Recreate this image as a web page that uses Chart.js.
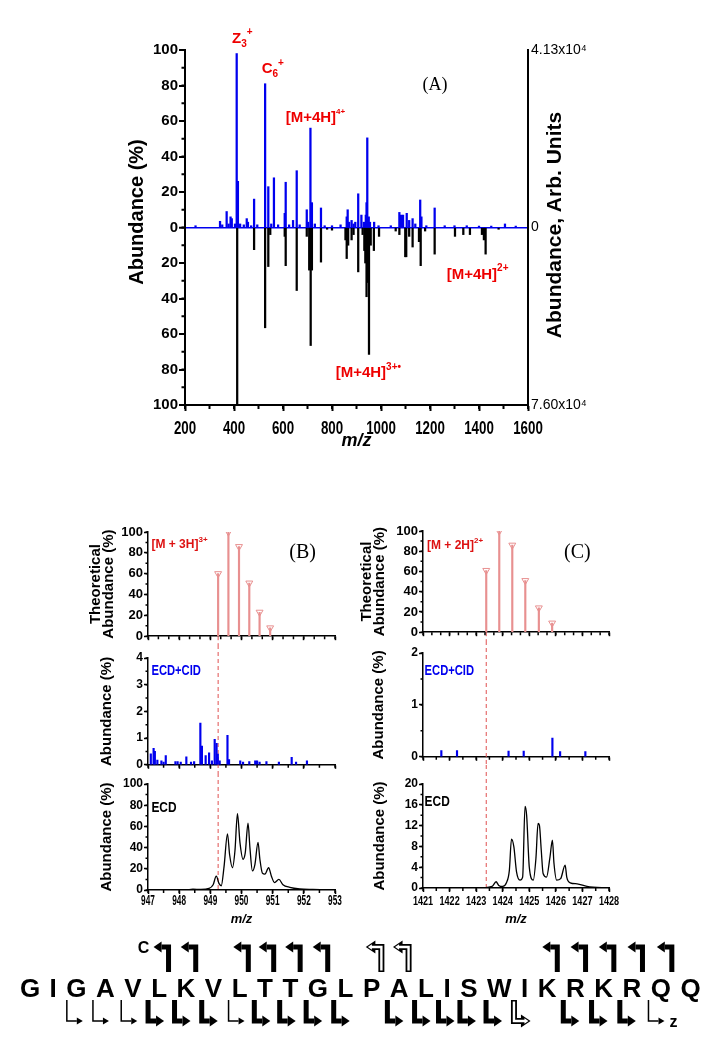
<!DOCTYPE html>
<html>
<head>
<meta charset="utf-8">
<script src="https://cdn.jsdelivr.net/npm/chart.js@4.4.1/dist/chart.umd.min.js"></script>
<style>
  body { margin: 0; background: #fff; }
  #page { position: relative; width: 712px; height: 1050px; overflow: hidden; background: #fff; }
  canvas { position: absolute; }
</style>
</head>
<body>
<div id="page">
  <canvas id="chartA" width="712" height="460" style="left:0px;top:0px"></canvas>
  <canvas id="bTop" width="356" height="130" style="left:0px;top:515px"></canvas>
  <canvas id="bMid" width="356" height="128" style="left:0px;top:645px"></canvas>
  <canvas id="bBot" width="356" height="157" style="left:0px;top:773px"></canvas>
  <canvas id="cTop" width="356" height="126" style="left:356px;top:515px"></canvas>
  <canvas id="cMid" width="356" height="124" style="left:356px;top:641px"></canvas>
  <canvas id="cBot" width="356" height="165" style="left:356px;top:765px"></canvas>
  <canvas id="seq" width="712" height="125" style="left:0px;top:925px"></canvas>
</div>
<script>
const BLUE = '#0000ee';
const RED = '#ee0000';
const PINK = '#e89090';
const SANS = "'Liberation Sans', Arial, sans-serif";
const SERIF = "'Liberation Serif', 'Times New Roman', serif";

// panel A - ECD+CID (up, blue) vs ECD (down, black)
const cidMz = [243, 343, 352, 370, 378, 386, 391, 404, 411, 416, 425, 440, 452, 457, 470, 482, 495, 527, 540, 552,
  563, 580, 607, 611, 625, 641, 656, 668, 697, 703, 712, 718, 730, 755, 770, 800, 835, 860, 864, 870,
  880, 888, 895, 907, 920, 930, 938, 941, 944, 950, 955, 972, 990, 1040, 1075, 1082, 1090, 1105, 1115, 1129,
  1140, 1160, 1165, 1185, 1219, 1260, 1300, 1350, 1400, 1450, 1506, 1550];
const cidAb = [1, 3.5, 1.5, 9, 2, 6, 5, 2, 98, 26, 2, 1.5, 5, 3, 1, 16, 1.5, 81, 23, 2,
  28, 1.5, 8, 25.5, 1.5, 4, 32, 1.5, 10, 3, 56, 14, 2, 11, 1, 1, 1.5, 6, 10, 3,
  4, 2, 3, 19, 7, 3, 7, 14, 50.5, 6, 3, 3, 1, 1, 8.5, 7, 7, 8, 4, 5,
  2, 15.5, 6, 1, 11, 1, 1, 1, 0.8, 0.8, 2, 0.8];
const ecdMz = [413, 482, 527, 540, 548, 607, 611, 656, 697, 707, 713, 718, 755, 780, 800, 855, 860, 866, 880, 888,
  907, 925, 932, 936, 941, 946, 951, 958, 971, 992, 1060, 1075, 1099, 1103, 1115, 1129, 1155, 1162, 1180, 1219,
  1302, 1336, 1363, 1412, 1420, 1427, 1480];
const ecdAb = [100, 12.5, 56.5, 22, 4, 5, 21.5, 35.5, 5, 24, 66.5, 24, 19.5, 1, 1.5, 7, 17.5, 10, 7, 4,
  25, 4, 13, 20, 39, 31, 71.5, 10, 13, 5, 2, 4, 16.5, 16.5, 5, 11, 8, 21.5, 2, 15,
  5, 4, 4, 4, 7, 15, 1];
const rightTickValues = [100, 0, -100];
const rightTickText = ['4.13x10\u2074', '0', '7.60x10\u2074'];

// panel B - [M+3H]3+ region
const thMzB = [949.25, 949.58, 949.92, 950.25, 950.58, 950.92];
const thAbB = [60, 100, 86, 51, 23, 8];
const cidMzB = [947.09, 947.18, 947.22, 947.3, 947.43, 947.5, 947.57, 947.88, 947.95, 948.05, 948.23, 948.38, 948.48,
  948.68, 948.73, 948.85, 948.96, 949.05, 949.14, 949.2, 949.24, 949.3, 949.55, 949.6, 949.96, 950.05,
  950.25, 950.44, 950.5, 950.58, 950.8, 951.2, 951.61, 951.75, 952.1];
const cidAbB = [0.41, 0.62, 0.5, 0.18, 0.15, 0.1, 0.35, 0.12, 0.12, 0.1, 0.3, 0.1, 0.12,
  1.56, 0.7, 0.35, 0.45, 0.15, 0.95, 0.8, 0.4, 0.15, 1.1, 0.2, 0.15, 0.1,
  0.12, 0.15, 0.15, 0.1, 0.12, 0.1, 0.28, 0.1, 0.15];
const ecdMzB = [947.0, 948.2, 948.44, 948.7, 948.96, 949.09, 949.19, 949.28, 949.35, 949.44, 949.55, 949.62, 949.71,
  949.79, 949.87, 949.95, 950.05, 950.12, 950.21, 950.27, 950.35, 950.43, 950.53, 950.59, 950.67, 950.75,
  950.87, 950.96, 951.06, 951.2, 951.33, 951.55, 951.87, 952.29, 953.0];
const ecdAbB = [0, 0, 0.8, 0.5, 1.5, 5, 13, 6, 4, 22, 53, 33, 21,
  37, 72, 45, 29, 35, 63, 40, 18, 24, 45, 29, 16, 15,
  21, 13, 7, 10, 5, 2.5, 1, 0.5, 0];

// panel C - [M+2H]2+ region
const thMzC = [1423.38, 1423.87, 1424.36, 1424.85, 1425.36, 1425.86];
const thAbC = [61, 100, 86, 51, 24, 9];
const cidMzC = [1421.69, 1422.28, 1424.22, 1424.79, 1425.87, 1426.16, 1427.11];
const cidAbC = [0.12, 0.12, 0.11, 0.11, 0.36, 0.1, 0.1];
const ecdMzC = [1421.0, 1423.0, 1423.6, 1423.75, 1423.85, 1424.0, 1424.14, 1424.25, 1424.33, 1424.42, 1424.52, 1424.65,
  1424.75, 1424.84, 1424.9, 1425.0, 1425.15, 1425.25, 1425.33, 1425.38, 1425.45, 1425.52, 1425.65, 1425.78,
  1425.87, 1425.93, 1426.03, 1426.18, 1426.35, 1426.41, 1426.54, 1426.8, 1427.17, 1428.0];
const ecdAbC = [0, 0, 0.3, 1.2, 0.5, 0.3, 1, 3.4, 9.4, 7.9, 3.1, 1.5,
  2.1, 15.7, 14, 4, 1.5, 5.7, 12.4, 12.1, 7.3, 2.8, 2.1, 6,
  9.2, 4.7, 1.5, 1.8, 4.4, 2.1, 1, 0.8, 0.3, 0];

// sequence map: cleavage after residue k (1-based)
const residues = 'GIGAVLKVLTTGLPALISWIKRKRQQ'.split('');
const cThick = [6, 7, 9, 10, 11, 12, 21, 22, 23, 24, 25];
const cOpen = [14, 15];
const zThin = [2, 3, 4, 8, 24];
const zThick = [5, 6, 7, 9, 10, 11, 12, 14, 15, 16, 17, 18, 21, 22, 23];
const zOpen = [19];

const pts = (xs, ys, sign = 1) => xs.map((x, i) => ({ x: x, y: sign * ys[i] }));

// ---------- plugins ----------
const minorTicks = {
  id: 'minorTicks',
  afterDraw(chart, args, opts) {
    const ctx = chart.ctx;
    ['x', 'y'].forEach(id => {
      const m = opts && opts[id];
      if (!m) return;
      const s = chart.scales[id];
      const n = Math.round((s.max - s.min) / m.step);
      ctx.save();
      ctx.strokeStyle = '#000';
      ctx.lineWidth = m.width || 1.5;
      ctx.beginPath();
      for (let i = 0; i <= n; i++) {
        const p = s.getPixelForValue(s.min + i * m.step);
        if (id === 'x') { ctx.moveTo(p, s.top); ctx.lineTo(p, s.top + m.len); }
        else { ctx.moveTo(s.right, p); ctx.lineTo(s.right - m.len, p); }
      }
      ctx.stroke();
      ctx.restore();
    });
  }
};

// x tick labels in the figure are tall and condensed: draw them squeezed
const squeezeLabels = {
  id: 'squeezeLabels',
  afterDraw(chart, args, o) {
    if (!o || !o.font) return;
    const s = chart.scales.x, ctx = chart.ctx;
    ctx.save();
    ctx.font = o.font;
    ctx.fillStyle = '#000';
    ctx.textAlign = 'center';
    ctx.textBaseline = 'alphabetic';
    s.ticks.forEach(t => {
      ctx.save();
      ctx.translate(s.getPixelForValue(t.value), s.top + o.offset);
      ctx.scale(o.scaleX, 1);
      ctx.fillText(String(t.value), 0, 0);
      ctx.restore();
    });
    ctx.restore();
  }
};

function drawRich(ctx, n, x, y) {
  const size = n.size, fam = n.family || SANS, wt = n.weight || 'bold', sx = n.scaleX || 1;
  const pieces = n.parts.map(([t, k]) => {
    const s = k ? Math.round(size * (n.small || 0.65)) : size;
    ctx.font = wt + ' ' + s + 'px ' + fam;
    return { t, k, s, w: ctx.measureText(t).width };
  });
  let cx = 0;
  if (n.align === 'center') cx -= pieces.reduce((a, p) => a + p.w, 0) / 2;
  ctx.save();
  ctx.translate(x, y);
  ctx.scale(sx, 1);
  ctx.fillStyle = n.color || '#000';
  ctx.textBaseline = n.baseline || 'alphabetic';
  ctx.textAlign = 'left';
  pieces.forEach(p => {
    const dy = p.k === 'sub' ? size * 0.25 : p.k === 'sup' ? -size * 0.5 : 0;
    ctx.font = wt + ' ' + p.s + 'px ' + fam;
    ctx.fillText(p.t, cx, dy);
    cx += p.w;
  });
  ctx.restore();
}

const notes = {
  id: 'notes',
  afterDatasetsDraw(chart, args, opts) {
    if (!opts || !opts.items) return;
    opts.items.forEach(n => {
      drawRich(chart.ctx, n, chart.scales.x.getPixelForValue(n.x), chart.scales.y.getPixelForValue(n.y));
    });
  }
};

const refLine = {
  id: 'refLine',
  beforeDatasetsDraw(chart, args, o) {
    if (!o || o.value == null) return;
    const ctx = chart.ctx;
    const x = chart.scales.x.getPixelForValue(o.value);
    const y0 = o.from === 'axis' ? chart.chartArea.bottom : 0;
    const y1 = o.to === 'axis' ? chart.chartArea.bottom : chart.height;
    ctx.save();
    ctx.strokeStyle = '#e05050';
    ctx.lineWidth = 1;
    ctx.setLineDash([4, 3]);
    ctx.beginPath();
    ctx.moveTo(x, y0);
    ctx.lineTo(x, y1);
    ctx.stroke();
    ctx.restore();
  }
};

// rotated axis titles, both reading bottom-to-top
const sideTitles = {
  id: 'sideTitles',
  afterDraw(chart, args, o) {
    if (!o || !o.items) return;
    const ctx = chart.ctx;
    o.items.forEach(t => {
      ctx.save();
      ctx.translate(t.x, t.y);
      ctx.rotate(-Math.PI / 2);
      ctx.font = t.font;
      ctx.fillStyle = '#000';
      ctx.textAlign = 'center';
      ctx.textBaseline = 'middle';
      ctx.fillText(t.text, 0, 0);
      ctx.restore();
    });
  }
};

Chart.register(minorTicks, squeezeLabels, notes, refLine, sideTitles);

// ---------- panel A ----------
new Chart(document.getElementById('chartA'), {
  type: 'bar',
  data: {
    datasets: [
      { label: 'ECD+CID', data: pts(cidMz, cidAb), backgroundColor: BLUE, barThickness: 1.6, grouped: false },
      { label: 'ECD', data: pts(ecdMz, ecdAb, -1), backgroundColor: '#000', barThickness: 1.6, grouped: false }
    ]
  },
  options: {
    responsive: false,
    animation: false,
    devicePixelRatio: 1,
    layout: { padding: { top: 50, right: 0, bottom: 0, left: 0 } },
    plugins: {
      legend: { display: false },
      tooltip: { enabled: false },
      minorTicks: { x: { step: 100, len: 4, width: 2 }, y: { step: 10, len: 3.5, width: 2 } },
      squeezeLabels: { font: 'bold 18px ' + SANS, scaleX: 0.74, offset: 28.5 },
      sideTitles: {
        items: [
          { text: 'Abundance (%)', x: 137, y: 212, font: 'bold 20px ' + SANS },
          { text: 'Abundance, Arb. Units', x: 555, y: 225, font: 'bold 21px ' + SANS }
        ]
      },
      notes: {
        items: [
          { x: 392, y: 104, parts: [['Z', ''], ['3', 'sub'], ['+', 'sup']], size: 15, color: RED },
          { x: 513, y: 87, parts: [['C', ''], ['6', 'sub'], ['+', 'sup']], size: 15, color: RED },
          { x: 611, y: 59.7, parts: [['[M+4H]', ''], ['4+', 'sup']], size: 15, small: 0.55, color: RED },
          { x: 1220, y: 80, parts: [['(A)', '']], size: 18, family: SERIF, weight: 'normal', align: 'center', baseline: 'middle' },
          { x: 1268, y: -29, parts: [['[M+4H]', ''], ['2+', 'sup']], size: 15, color: RED },
          { x: 815, y: -84.4, parts: [['[M+4H]', ''], ['3+\u2022', 'sup']], size: 15, color: RED }
        ]
      }
    },
    scales: {
      x: {
        type: 'linear', min: 200, max: 1600, offset: false,
        afterFit: s => { s.height = 55; },
        ticks: { display: false, stepSize: 200, autoSkip: false },
        grid: { drawOnChartArea: false, offset: false, tickLength: 6, tickWidth: 2, tickColor: '#000' },
        border: { color: '#000', width: 2 },
        title: { display: true, text: 'm/z', color: '#000',
          font: { family: SANS, size: 18, weight: 'bold', style: 'italic' }, padding: { top: 0, bottom: 8 } }
      },
      y: {
        min: -100, max: 100,
        afterFit: s => { s.width = 185; },
        ticks: { stepSize: 20, padding: 1, color: '#000', callback: v => Math.abs(v),
          font: { family: SANS, size: 15, weight: 'bold' } },
        grid: {
          drawOnChartArea: true,
          color: c => (c.tick && c.tick.value === 0) ? BLUE : 'rgba(0,0,0,0)',
          lineWidth: c => (c.tick && c.tick.value === 0) ? 1.5 : 0,
          tickLength: 6, tickWidth: 2, tickColor: '#000'
        },
        border: { color: '#000', width: 2 }
      },
      y2: {
        position: 'right', min: -100, max: 100,
        afterFit: s => { s.width = 184; },
        ticks: { stepSize: 100, padding: 3, color: '#000',
          callback: v => { const i = rightTickValues.indexOf(v); return i >= 0 ? rightTickText[i] : ''; },
          font: { family: SANS, size: 14 } },
        grid: { display: false, drawTicks: false },
        border: { color: '#000', width: 2 }
      }
    }
  }
});

// ---------- panels B and C ----------
function spectrum(id, o) {
  return new Chart(document.getElementById(id), {
    type: 'bar',
    data: { datasets: o.datasets },
    options: {
      responsive: false,
      animation: false,
      devicePixelRatio: 1,
      layout: { padding: { top: o.padTop, right: o.padRight, bottom: 0, left: 0 } },
      plugins: {
        legend: { display: false },
        tooltip: { enabled: false },
        minorTicks: o.minor,
        squeezeLabels: o.xLabels,
        notes: { items: o.notes },
        refLine: o.ref
      },
      scales: {
        x: {
          type: 'linear', min: o.xRange[0], max: o.xRange[1], offset: false,
          afterFit: s => { s.height = o.xHeight; },
          ticks: { display: false, stepSize: 1, autoSkip: false },
          grid: { drawOnChartArea: false, offset: false, tickLength: 4, tickWidth: 1.5, tickColor: '#000' },
          border: { color: '#000', width: 1.5 },
          title: { display: !!o.xLabels, text: 'm/z', color: '#000',
            font: { family: SANS, size: 13, weight: 'bold', style: 'italic' }, padding: { top: 0, bottom: 3 } }
        },
        y: {
          min: 0, max: o.yMax,
          afterFit: s => { s.width = o.yWidth; },
          ticks: { stepSize: o.yStep, padding: 1, color: '#000', font: o.yFont },
          grid: { drawOnChartArea: false, tickLength: 4, tickWidth: 1.5, tickColor: '#000' },
          border: { color: '#000', width: 1.5 },
          title: { display: true, text: o.yTitle, color: '#000',
            font: { family: SANS, size: 15, weight: 'bold', lineHeight: o.yTitleLH || 1.2 },
            padding: { top: o.yTitlePad, bottom: 0 } }
        }
      }
    }
  });
}

const wideTick = { family: SANS, size: 13, weight: 'bold' };
const smallTick = { family: SANS, size: 12, weight: 'bold' };

function theoSets(mz, ab) {
  return [
    { type: 'bar', data: pts(mz, ab), backgroundColor: PINK, barThickness: 1.5, grouped: false },
    { type: 'scatter', data: pts(mz, ab), pointStyle: 'triangle', pointRotation: 180, pointRadius: 4,
      pointBorderColor: PINK, pointBackgroundColor: '#fff', pointBorderWidth: 1 }
  ];
}
const stickSet = (mz, ab) => [{ type: 'bar', data: pts(mz, ab), backgroundColor: BLUE, barThickness: 1.5, grouped: false }];
const profileSet = (mz, ab) => [{ type: 'line', data: pts(mz, ab), borderColor: '#000', borderWidth: 1.3,
  pointRadius: 0, cubicInterpolationMode: 'monotone', fill: false }];

spectrum('bTop', {
  datasets: theoSets(thMzB, thAbB), xRange: [947, 953], padTop: 17, padRight: 21, xHeight: 8,
  yMax: 100, yStep: 20, yWidth: 148, yFont: wideTick,
  yTitle: ['Theoretical', 'Abundance (%)'], yTitleLH: 0.9, yTitlePad: 89,
  minor: { x: { step: 1 / 3, len: 3 }, y: { step: 10, len: 2.5 } },
  ref: { value: thMzB[0], from: 'axis' },
  notes: [
    { x: 947.11, y: 85, parts: [['[M + 3H]', ''], ['3+', 'sup']], size: 12, color: '#dd1111' },
    { x: 951.96, y: 80, parts: [['(B)', '']], size: 20, family: SERIF, weight: 'normal', align: 'center', baseline: 'middle' }
  ]
});
spectrum('bMid', {
  datasets: stickSet(cidMzB, cidAbB), xRange: [947, 953], padTop: 13, padRight: 21, xHeight: 8,
  yMax: 4, yStep: 1, yWidth: 148, yFont: smallTick,
  yTitle: 'Abundance (%)', yTitlePad: 98,
  minor: { x: { step: 0.5, len: 3 }, y: { step: 0.5, len: 2.5 } },
  ref: { value: thMzB[0] },
  notes: [{ x: 947.11, y: 3.37, parts: [['ECD+CID', '']], size: 14, scaleX: 0.8, color: BLUE }]
});
spectrum('bBot', {
  datasets: profileSet(ecdMzB, ecdAbB), xRange: [947, 953], padTop: 11, padRight: 21, xHeight: 40,
  xLabels: { font: 'bold 15px ' + SANS, scaleX: 0.55, offset: 15 },
  yMax: 100, yStep: 20, yWidth: 148, yFont: smallTick,
  yTitle: 'Abundance (%)', yTitlePad: 98,
  minor: { x: { step: 0.5, len: 3 }, y: { step: 10, len: 2.5 } },
  ref: { value: thMzB[0], to: 'axis' },
  notes: [{ x: 947.11, y: 73.9, parts: [['ECD', '']], size: 14, scaleX: 0.85 }]
});

spectrum('cTop', {
  datasets: theoSets(thMzC, thAbC), xRange: [1421, 1428], padTop: 16, padRight: 103, xHeight: 8,
  yMax: 100, yStep: 20, yWidth: 67, yFont: wideTick,
  yTitle: ['Theoretical', 'Abundance (%)'], yTitleLH: 0.9, yTitlePad: 4,
  minor: { x: { step: 1 / 3, len: 3 }, y: { step: 10, len: 2.5 } },
  ref: { value: thMzC[0], from: 'axis' },
  notes: [
    { x: 1421.15, y: 82, parts: [['[M + 2H]', ''], ['2+', 'sup']], size: 12, color: '#dd1111' },
    { x: 1426.81, y: 78.7, parts: [['(C)', '']], size: 20, family: SERIF, weight: 'normal', align: 'center', baseline: 'middle' }
  ]
});
spectrum('cMid', {
  datasets: stickSet(cidMzC, cidAbC), xRange: [1421, 1428], padTop: 12, padRight: 103, xHeight: 8,
  yMax: 2, yStep: 1, yWidth: 67, yFont: smallTick,
  yTitle: 'Abundance (%)', yTitlePad: 14,
  minor: { x: { step: 0.5, len: 3 }, y: { step: 0.5, len: 2.5 } },
  ref: { value: thMzC[0] },
  notes: [{ x: 1421.06, y: 1.58, parts: [['ECD+CID', '']], size: 14, scaleX: 0.8, color: BLUE }]
});
spectrum('cBot', {
  datasets: profileSet(ecdMzC, ecdAbC), xRange: [1421, 1428], padTop: 19, padRight: 103, xHeight: 42,
  xLabels: { font: 'bold 13px ' + SANS, scaleX: 0.7, offset: 17 },
  yMax: 20, yStep: 4, yWidth: 67, yFont: smallTick,
  yTitle: 'Abundance (%)', yTitlePad: 15,
  minor: { x: { step: 0.5, len: 3 }, y: { step: 2, len: 2.5 } },
  ref: { value: thMzC[0], to: 'axis' },
  notes: [{ x: 1421.06, y: 15.7, parts: [['ECD', '']], size: 14, scaleX: 0.85 }]
});

// ---------- sequence with c / z cleavage marks ----------
(function drawSequence() {
  const g = document.getElementById('seq').getContext('2d');
  const base = 72, gap = 9.5;
  g.font = 'bold 26px ' + SANS;
  g.fillStyle = '#000';
  g.textBaseline = 'alphabetic';
  let x = 30 - g.measureText(residues[0]).width / 2;
  const centers = [];
  residues.forEach(r => {
    const w = g.measureText(r).width;
    g.fillText(r, x, base);
    centers.push(x + w / 2);
    x += w + gap;
  });
  const cut = k => (centers[k - 1] + centers[k]) / 2;

  // polyline from the free end to the corner, then an arrow along y = tip[1]
  function hook(points, tip, dir, style) {
    const thick = style !== 'thin';
    const hl = thick ? 8 : 6, hh = thick ? 5.5 : 3.5;
    const path = (endX, w, c, trim) => {
      g.beginPath();
      const p0 = points[0], p1 = points[1];
      const sy = p0[1] + Math.sign(p1[1] - p0[1]) * trim;
      g.moveTo(p0[0], sy);
      points.slice(1).forEach(p => g.lineTo(p[0], p[1]));
      g.lineTo(endX, tip[1]);
      g.lineWidth = w; g.strokeStyle = c; g.lineJoin = 'miter'; g.lineCap = 'butt';
      g.stroke();
    };
    const head = (s, c) => {
      g.beginPath();
      g.moveTo(tip[0] - dir * (1 - s) * 3, tip[1]);
      g.lineTo(tip[0] - dir * hl * s - dir * (1 - s) * 3, tip[1] - hh * s);
      g.lineTo(tip[0] - dir * hl * s - dir * (1 - s) * 3, tip[1] + hh * s);
      g.closePath();
      g.fillStyle = c; g.fill();
    };
    if (style === 'open') {
      path(tip[0] - dir * hl, 6, '#000', 0); head(1.2, '#000');
      path(tip[0] - dir * 4, 2.4, '#fff', 1.5); head(0.5, '#fff');
    } else {
      path(tip[0] - dir * hl, thick ? 5 : 1.5, '#000', 0); head(1, '#000');
    }
  }
  const cMark = (k, style) => {
    const sx = cut(k) - 4;
    hook([[sx, 47], [sx, 22]], [sx - 15, 22], -1, style);
  };
  const zMark = (k, style) => {
    const sx = cut(k) + 2;
    hook([[sx, 75], [sx, 96]], [sx + 16, 96], 1, style);
  };
  cThick.forEach(k => cMark(k, 'thick'));
  cOpen.forEach(k => cMark(k, 'open'));
  zThin.forEach(k => zMark(k, 'thin'));
  zThick.forEach(k => zMark(k, 'thick'));
  zOpen.forEach(k => zMark(k, 'open'));

  g.fillStyle = '#000';
  g.font = 'bold 16px ' + SANS;
  g.textAlign = 'center';
  g.fillText('C', cut(cThick[0]) - 29, 28);
  g.fillText('z', cut(zThin[zThin.length - 1]) + 27, 102);
})();
</script>
</body>
</html>
